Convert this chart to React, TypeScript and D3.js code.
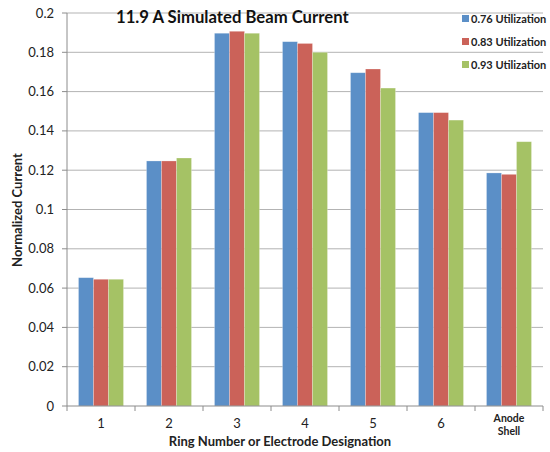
import React from "react";
import * as d3 from "d3";

const categories = ["1", "2", "3", "4", "5", "6", "Anode Shell"];
const seriesNames = ["0.76 Utilization", "0.83 Utilization", "0.93 Utilization"];
const util076 = [0.0653, 0.1247, 0.1897, 0.1854, 0.1696, 0.1493, 0.1186];
const util083 = [0.0645, 0.1247, 0.1907, 0.1845, 0.1715, 0.1493, 0.1179];
const util093 = [0.0645, 0.1262, 0.1897, 0.18, 0.1618, 0.1455, 0.1345];
const yTicks = [0, 0.02, 0.04, 0.06, 0.08, 0.1, 0.12, 0.14, 0.16, 0.18, 0.2];
const colors = ["#5b8fc7", "#cb6259", "#a5c265"];

const W = 550, H = 452;
const left = 67, right = 543, top = 13, bottom = 406;
const FONT = "Lato, 'Open Sans', sans-serif";

export default function App() {
  const series = [util076, util083, util093];
  const x = d3.scaleBand<string>().domain(categories).range([left, right]).paddingInner(23 / 68).paddingOuter(11.5 / 68);
  const xb = d3.scaleBand<number>().domain([0, 1, 2]).range([0, x.bandwidth()]);
  const xOuter = d3.scaleBand<string>().domain(categories).range([left, right]);
  const y = d3.scaleLinear().domain([0, 0.2]).range([bottom, top]);
  const fmt = (v: number) => (v === 0 ? "0" : String(+v.toFixed(2)));
  return (
    <svg width={W} height={H} style={{ position: "absolute", left: 0, top: 0, fontFamily: FONT }}>
      <rect width={W} height={H} fill="#fff" />
      {yTicks.map((t) => (
        <g key={t}>
          {t > 0 && <line x1={left} x2={right} y1={y(t)} y2={y(t)} stroke="#b3b3b3" strokeWidth={1} />}
          <line x1={left - 5} x2={left} y1={y(t)} y2={y(t)} stroke="#8c8c8c" />
          <text x={54} y={y(t)} dy="0.35em" textAnchor="end" fontSize={13} fill="#222">{fmt(t)}</text>
        </g>
      ))}
      {series.map((vals, si) =>
        categories.map((c, ci) => (
          <rect key={si + "-" + c}
            x={(x(c) as number) + (xb(si) as number)}
            y={y(vals[ci])}
            width={xb.bandwidth()}
            height={bottom - y(vals[ci])}
            fill={colors[si]} stroke="#ffffff" strokeOpacity={0.35} strokeWidth={0.7} />
        ))
      )}
      <line x1={left} x2={left} y1={top} y2={bottom} stroke="#8c8c8c" />
      <line x1={left} x2={right} y1={bottom} y2={bottom} stroke="#8c8c8c" />
      {categories.map((c) => (
        <line key={"t" + c} x1={(xOuter(c) as number)} x2={(xOuter(c) as number)} y1={bottom} y2={bottom + 5} stroke="#8c8c8c" />
      ))}
      <line x1={right} x2={right} y1={bottom} y2={bottom + 5} stroke="#8c8c8c" />
      {categories.map((c) => {
        const cx = (xOuter(c) as number) + xOuter.bandwidth() / 2;
        if (c === "Anode Shell") {
          return (
            <text key={"l" + c} x={cx} textAnchor="middle" fontSize={10.5} fontWeight="bold" fill="#222">
              <tspan x={cx} y={422}>Anode</tspan>
              <tspan x={cx} y={435}>Shell</tspan>
            </text>
          );
        }
        return <text key={"l" + c} x={cx} y={428} textAnchor="middle" fontSize={13} fill="#222">{c}</text>;
      })}
      <text x={280} y={446} textAnchor="middle" fontSize={13} fontWeight="bold" fill="#222">Ring Number or Electrode Designation</text>
      <text transform={`translate(22,210) rotate(-90)`} textAnchor="middle" fontSize={13} fontWeight="bold" fill="#222">Normalized Current</text>
      <text x={116} y={23} fontSize={16.7} fontWeight="bold" fill="#111">11.9 A Simulated Beam Current</text>
      {seriesNames.map((n, i) => (
        <g key={n}>
          <rect x={462} y={15 + i * 23} width={7} height={7} fill={colors[i]} />
          <text x={471} y={19 + i * 23} dy="0.35em" fontSize={11} fontWeight="bold" fill="#222">{n}</text>
        </g>
      ))}
    </svg>
  );
}
